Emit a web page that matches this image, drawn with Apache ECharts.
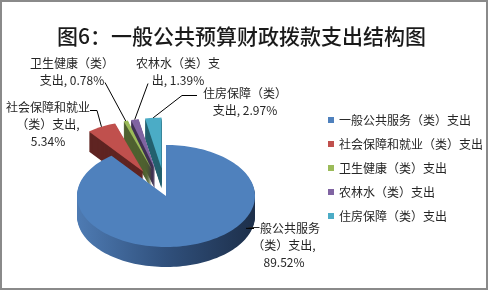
<!DOCTYPE html>
<html>
<head>
<meta charset="utf-8">
<script src="https://cdn.jsdelivr.net/npm/echarts@6/dist/echarts.min.js"></script>
<style>
html,body{margin:0;padding:0;background:#fff;}
#chart{width:489px;height:291px;}
</style>
</head>
<body>
<div id="chart"></div>
<script>
// ---- data ----
const titleText = '图6：一般公共预算财政拨款支出结构图';
const categories = ['一般公共服务（类）支出', '社会保障和就业（类）支出', '卫生健康（类）支出', '农林水（类）支出', '住房保障（类）支出'];
const values = [89.52, 5.34, 0.78, 1.39, 2.97];
const labelHeads = ['一般公共服务\n（类）支出,\n', '社会保障和就业\n（类）支出,\n', '卫生健康（类）\n支出, ', '农林水（类）支\n出, ', '住房保障（类）\n支出, '];

// ---- style / layout ----
const topColors = ['#4f81bd', '#c0504d', '#9bbb59', '#8064a2', '#4bacc6'];
const sideColors = [
  {type: 'linear', x: 0, y: 0, x2: 1, y2: 0, colorStops: [{offset: 0, color: '#4e7bb3'}, {offset: 0.5, color: '#30507c'}, {offset: 1, color: '#1d2f4a'}]},
  '#5f2422', '#4f6130', '#3f3153', '#24606f'
];
const P = {cx: 166, cy: 196, rx: 89, ry: 51, depth: 20, explode: 48};
// label layout: text centre x, text top y, leader: angle on slice rim, extra dy, then bend points
const LBL = [
  {x: 284, y: 219.5, ang: 116, dy: 10, pts: [[254, 228.5]]},
  {x: 48, y: 98.5, ang: 331.9, dy: 0, pts: [[97, 110.5], [90, 110.5]]},
  {x: 72, y: 54.5, ang: 342.9, dy: 0, pts: [[105, 82.5]]},
  {x: 178, y: 54.5, ang: 346.8, dy: 0, pts: [[148, 83.5]]},
  {x: 245, y: 84.5, ang: 354.6, dy: 0, pts: [[182, 95.5], [197, 95.5]]}
];
const FONT = '"Noto Sans CJK SC", "Noto Sans", sans-serif';

const total = values.reduce((a, b) => a + b, 0);
const starts = [];
values.reduce((acc, v, i) => { starts[i] = acc; return acc + v; }, 0);

function rimPoint(cx, cy, deg) {
  const a = deg * Math.PI / 180;
  return [cx + P.rx * Math.sin(a), cy - P.ry * Math.cos(a)];
}
function slicePoints(cx, cy, a0, a1, dy) {
  const pts = [[cx, cy + dy]];
  const n = Math.max(2, Math.ceil((a1 - a0) / 2));
  for (let k = 0; k <= n; k++) {
    const p = rimPoint(cx, cy, a0 + (a1 - a0) * k / n);
    pts.push([p[0], p[1] + dy]);
  }
  return pts;
}

function renderItem(params, api) {
  const i = params.dataIndex;
  const v = api.value(0);
  const a0 = starts[i] / total * 360;
  const a1 = a0 + v / total * 360;
  const mid = (a0 + a1) / 2 * Math.PI / 180;
  const ex = i === 0 ? 0 : P.explode;
  const cx = P.cx + ex * Math.sin(mid);
  const cy = P.cy - ex * Math.cos(mid) * (P.ry / P.rx);
  const base = i === 0 ? 20 : 2 * (5 - i);
  const children = [];
  for (let k = P.depth; k >= 1; k--) {
    children.push({type: 'polygon', z2: base, shape: {points: slicePoints(cx, cy, a0, a1, k)}, style: {fill: sideColors[i], stroke: null}});
  }
  children.push({type: 'polygon', z2: base + 1, shape: {points: slicePoints(cx, cy, a0, a1, 0)}, style: {fill: topColors[i], stroke: null}});
  // label + leader
  const L = LBL[i];
  const s = rimPoint(cx, cy, L.ang);
  const linePts = [[s[0], s[1] + L.dy]].concat(L.pts);
  children.push({type: 'polyline', z2: 100, shape: {points: linePts}, style: {stroke: '#000', lineWidth: 1, fill: null}});
  children.push({type: 'text', z2: 100, x: L.x, y: L.y, style: {
    text: labelHeads[i] + v.toFixed(2) + '%', textAlign: 'center', textVerticalAlign: 'top',
    font: '12px ' + FONT, lineHeight: 17, fill: '#262626'}});
  return {type: 'group', children: children};
}

const chart = echarts.init(document.getElementById('chart'), null, {renderer: 'canvas'});
chart.setOption({
  animation: false,
  backgroundColor: '#fff',
  color: topColors,
  title: {
    text: titleText, left: 57, top: 26, padding: 0,
    textStyle: {fontFamily: FONT, fontSize: 21, fontWeight: 500, color: '#1a1a1a'}
  },
  legend: {
    orient: 'vertical', left: 323, top: 109, icon: 'rect', itemWidth: 6, itemHeight: 6, itemGap: 12,
    data: categories, selectedMode: false,
    textStyle: {fontFamily: FONT, fontSize: 12, color: '#262626'}
  },
  graphic: [{type: 'rect', shape: {x: 1, y: 1, width: 486, height: 288}, style: {fill: null, stroke: '#8a8a8a', lineWidth: 2}, silent: true, z: 100}],
  series: [
    {type: 'custom', name: 'pie3d', coordinateSystem: 'none', renderItem: renderItem, data: values, silent: true},
    {type: 'pie', name: 'legendPie', radius: [0, 0], center: [P.cx, P.cy], silent: true, label: {show: false}, labelLine: {show: false},
     data: categories.map((c, i) => ({name: c, value: values[i]}))}
  ]
});
</script>
</body>
</html>
